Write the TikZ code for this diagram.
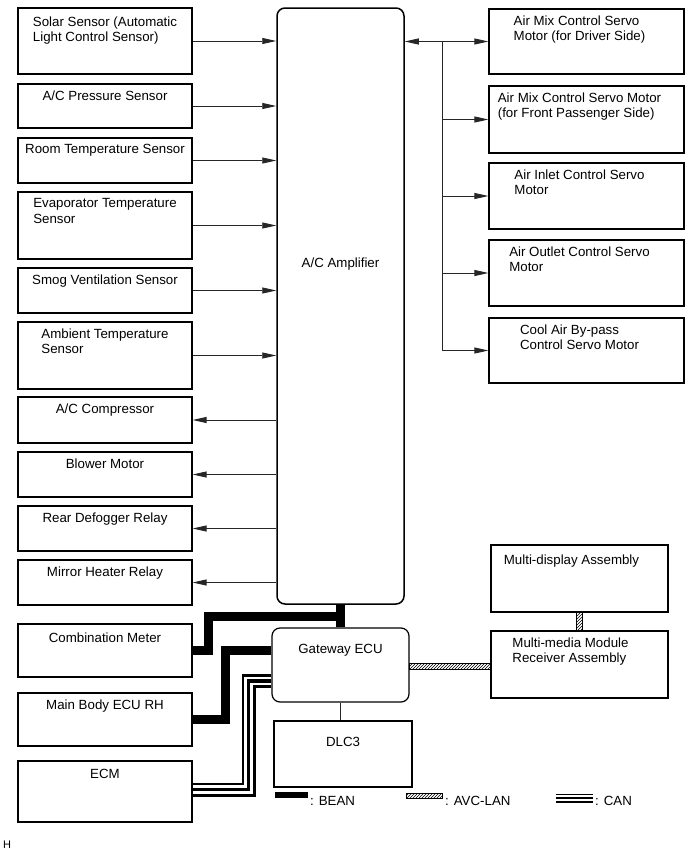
\documentclass[tikz,border=0pt]{standalone}
\usepackage{fontspec}
\setmainfont{Liberation Sans}
\usetikzlibrary{arrows.meta,patterns}

\tikzset{
  unit/.style={draw,line width=1.2pt,inner sep=0pt},
  lbox/.style={unit,minimum width=174pt},
  rbox/.style={unit,minimum width=195pt},
  tag/.style={anchor=north,align=left,inner sep=0pt,yshift=-7pt},
  rtag/.style={tag,xshift=-7pt},
  sig/.style={black!85,line width=0.9pt,-{Triangle[length=14pt,width=6pt]}},
  both/.style={black!85,line width=0.9pt,{Triangle[length=14pt,width=6pt]}-{Triangle[length=14pt,width=6pt]}},
  bean/.style={line width=8.5pt},
  can/.style={line width=#1,postaction={draw,white,line width=0.6*#1},postaction={draw,black,line width=0.22*#1}},
  can/.default=14pt,
  avc/.style={draw,line width=0.6pt,pattern=north east lines},
  key/.style={anchor=west,inner sep=0pt}
}

\begin{document}
\begin{tikzpicture}[x=1pt,y=-1pt,font=\fontsize{13.3}{15.5}\selectfont]
  \useasboundingbox (0,0) rectangle (690,854);

  % sensors and actuators on the left
  \node[lbox,minimum height=66pt,label={[tag,yshift=-2pt]north:Solar Sensor (Automatic\\Light Control Sensor)}] (solar) at (105,41) {};
  \node[lbox,minimum height=44pt,label={[tag]north:A/C Pressure Sensor}] (press) at (105,106) {};
  \node[lbox,minimum height=45pt,label={[tag]north:Room Temperature Sensor}] (room) at (105,160.5) {};
  \node[lbox,minimum height=67pt,label={[tag]north:Evaporator Temperature\\Sensor}] (evap) at (105,225.5) {};
  \node[lbox,minimum height=45pt,label={[tag]north:Smog Ventilation Sensor}] (smog) at (105,290.5) {};
  \node[lbox,minimum height=67pt,label={[tag]north:Ambient Temperature\\Sensor}] (amb) at (105,355.5) {};
  \node[lbox,minimum height=46pt,label={[tag]north:A/C Compressor}] (comp) at (105,420) {};
  \node[lbox,minimum height=45pt,label={[tag]north:Blower Motor}] (blower) at (105,474.5) {};
  \node[lbox,minimum height=45pt,label={[tag]north:Rear Defogger Relay}] (defog) at (105,528.5) {};
  \node[lbox,minimum height=45pt,label={[tag]north:Mirror Heater Relay}] (mirror) at (105,582.5) {};
  \node[lbox,minimum height=53pt,label={[tag,yshift=-2pt]north:Combination Meter}] (meter) at (105,650.5) {};
  \node[lbox,minimum height=53pt,label={[tag]north:Main Body ECU RH}] (main) at (105,719.5) {};
  \node[lbox,minimum height=61pt,label={[tag,yshift=-2pt]north:ECM}] (ecm) at (105,791.5) {};

  % amplifier
  \node[unit,line width=1.5pt,rounded corners=8pt,minimum width=127pt,minimum height=596pt] (amp) at (340.5,306) {};
  \node (amptxt) at (340.5,264) {A/C Amplifier};

  % servo motors
  \node[rbox,minimum height=65pt,label={[rtag]north:Air Mix Control Servo\\Motor (for Driver Side)}] (mix1) at (586.5,41.5) {};
  \node[rbox,minimum height=67pt,label={[rtag]north:Air Mix Control Servo Motor\\(for Front Passenger Side)}] (mix2) at (586.5,119.5) {};
  \node[rbox,minimum height=66pt,label={[rtag]north:Air Inlet Control Servo\\Motor}] (inlet) at (586.5,196) {};
  \node[rbox,minimum height=66pt,label={[rtag]north:Air Outlet Control Servo\\Motor}] (outlet) at (586.5,273) {};
  \node[rbox,minimum height=65pt,label={[rtag]north:Cool Air By-pass\\Control Servo Motor}] (bypass) at (586.5,350.5) {};

  % network part
  \node[unit,rounded corners=8pt,minimum width=137pt,minimum height=74pt,label={[tag,yshift=-10pt]north:Gateway ECU}] (gw) at (340.5,665) {};
  \node[unit,minimum width=138pt,minimum height=66pt,label={[tag,yshift=-10pt]north:DLC3}] (dlc) at (343,754) {};
  \node[unit,minimum width=177pt,minimum height=67pt,label={[rtag,xshift=-1pt,yshift=-3pt]north:Multi-display Assembly}] (md) at (579.5,578.5) {};
  \node[unit,minimum width=177pt,minimum height=67pt,label={[rtag,xshift=-2pt]north:Multi-media Module\\Receiver Assembly}] (mm) at (579.5,664.5) {};

  \foreach \n in {solar,press,room,evap,smog,amb}
    \draw[sig] (\n) -- (\n -| amp.west);
  \foreach \n in {comp,blower,defog,mirror}
    \draw[sig] (amp.west |- \n) -- (\n);

  \coordinate (bus) at (442,0);
  \draw[both] (amp.east |- mix1) -- (mix1);
  \draw[black!85,line width=0.9pt] (bus |- mix1) -- (bus |- bypass);
  \foreach \n in {mix2,inlet,outlet,bypass}
    \draw[sig] (bus |- \n) -- (\n);

  % BEAN
  \draw[bean] (amp.south) -- (gw.north);
  \draw[bean] (gw.north) ++(0,-11) -| ([xshift=16pt]meter.east) -- (meter.east);
  \draw[bean] (gw.west |- meter.east) -| ([xshift=33pt]main.east) -- (main.east);
  % CAN
  \draw[can] ([yshift=-16pt]gw.west) -| ([xshift=56pt,yshift=2pt]ecm.east) -- ([yshift=2pt]ecm.east);
  % AVC-LAN
  \draw[avc] ([yshift=2pt]gw.east) rectangle ([yshift=-4pt]gw.east -| mm.west);
  \draw[avc] ([xshift=-3pt]md.south) rectangle ([xshift=3pt]mm.north);
  \draw[black!85,line width=0.9pt] (gw.south) -- (gw.south |- dlc.north);

  % legend
  \draw[bean,line width=6pt] (275,795) -- (308,795);
  \node[key] (beankey) at (310,801) {: BEAN};
  \draw[avc] (406,793) rectangle (442,798);
  \node[key] (avckey) at (445,801) {: AVC-LAN};
  \draw[can=9pt] (556,798) -- (593,798);
  \node[key] (cankey) at (595,801) {: CAN};

  \node[font=\fontsize{11}{13}\selectfont] (fig) at (7,845) {H};
\end{tikzpicture}
\end{document}
